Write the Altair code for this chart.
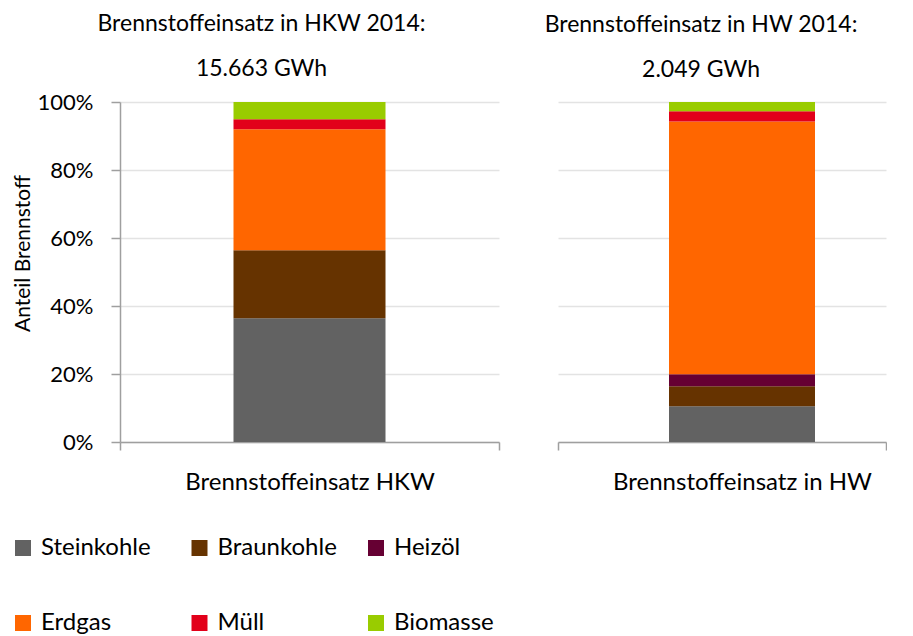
import altair as alt
import pandas as pd

fuels = ["Steinkohle", "Braunkohle", "Heizöl", "Erdgas", "Müll", "Biomasse"]
fuel_colors = ["#626262", "#663300", "#660033", "#FF6600", "#E2001A", "#99CC00"]
hkw_share = [36.4, 20.0, 0.0, 35.6, 2.9, 5.1]
hw_share = [10.5, 5.9, 3.5, 74.4, 3.0, 2.7]
cat_hkw = "Brennstoffeinsatz HKW"
cat_hw = "Brennstoffeinsatz in HW"
title_hkw = ["Brennstoffeinsatz in HKW 2014:", "15.663 GWh"]
title_hw = ["Brennstoffeinsatz in HW 2014:", "2.049 GWh"]
y_ticks = [0, 0.2, 0.4, 0.6, 0.8, 1.0]
y_title = "Anteil Brennstoff"

FONT = "Lato"
AXIS_GREY = "#9f9f9f"
GRID_GREY = "#e3e3e3"


def make_df(cat, shares):
    return pd.DataFrame({
        "Kategorie": [cat] * len(fuels),
        "Brennstoff": fuels,
        "Anteil": [s / 100 for s in shares],
        "Ordnung": list(range(len(fuels))),
    })


color = alt.Color(
    "Brennstoff:N",
    scale=alt.Scale(domain=fuels, range=fuel_colors),
    legend=alt.Legend(
        title=None, orient="none", legendX=-109, legendY=434, direction="horizontal",
        columns=3, symbolType="square", symbolSize=256, symbolStrokeWidth=0,
        labelFont=FONT, labelFontSize=24, labelColor="#000000", labelOffset=6,
        columnPadding=26.5, rowPadding=51, gridAlign="all", labelLimit=300,
    ),
)


def panel(df, title, width, bar_width, bar_shift, show_y, dx, t_offset):
    yaxis = alt.Axis(
        values=y_ticks, format=".0%", grid=True, gridColor=GRID_GREY, gridWidth=1.5,
        title=y_title if show_y else None,
        labels=show_y, ticks=show_y, domain=show_y,
        domainColor=AXIS_GREY, domainWidth=1.5, tickColor=AXIS_GREY, tickWidth=1.5,
        tickSize=9, labelPadding=18, labelFont=FONT, labelFontSize=22, labelColor="#000000",
        titleFont=FONT, titleFontSize=21, titleFontWeight="normal", titleColor="#000000",
        titlePadding=4, titleY=151,
    )
    xaxis = alt.Axis(
        title=None, labelAngle=0, tickBand="extent", domainColor=AXIS_GREY, domainWidth=1.5,
        tickColor=AXIS_GREY, tickWidth=1.5, tickSize=8, labelPadding=20, labelLimit=400,
        labelOffset=bar_shift, labelFont=FONT, labelFontSize=24, labelColor="#000000",
    )
    return alt.Chart(df).mark_bar(width=bar_width, xOffset=bar_shift).encode(
        x=alt.X("Kategorie:N", scale=alt.Scale(paddingInner=0, paddingOuter=0), axis=xaxis),
        y=alt.Y("Anteil:Q", stack="zero", scale=alt.Scale(domain=[0, 1], nice=False), axis=yaxis),
        color=color,
        order=alt.Order("Ordnung:Q"),
    ).properties(
        width=width, height=340,
        title=alt.TitleParams(
            text=title, dx=dx, anchor="middle", font=FONT, fontSize=23,
            fontWeight="normal", color="#000000", lineHeight=45, offset=t_offset,
            baseline="alphabetic",
        ),
    )


left = panel(make_df(cat_hkw, hkw_share), title_hkw, 379, 152, 0, True, -48, -8)
right = panel(make_df(cat_hw, hw_share), title_hw, 328, 146, 20, False, -21, 2)

chart = alt.hconcat(left, right, spacing=44).properties(
    padding={"left": 3, "top": 5, "right": 0, "bottom": 0}
).configure_view(stroke=None)

chart.save("out.html", embed_options={"renderer": "svg", "actions": False})
